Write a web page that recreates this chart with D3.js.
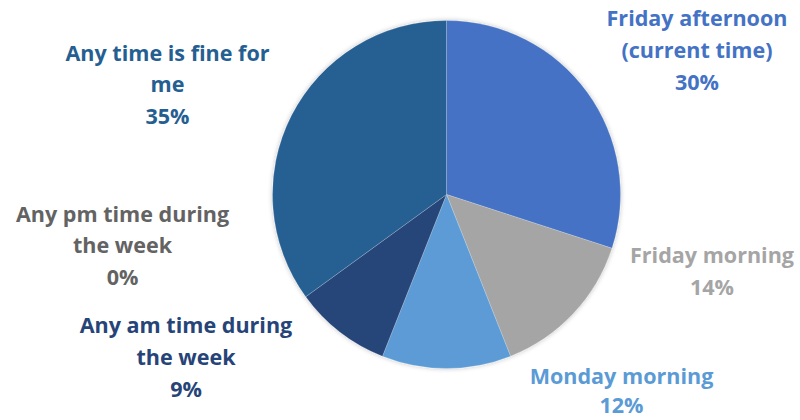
<!DOCTYPE html>
<html>
<head>
<meta charset="utf-8">
<script src="https://cdn.jsdelivr.net/npm/d3@7"></script>
<style>
  html, body { margin: 0; padding: 0; background: #fff; }
  svg { display: block; }
  text { font-family: "Open Sans", Lato, sans-serif; font-weight: 700; }
</style>
</head>
<body>
<svg id="chart" width="800" height="420"></svg>
<script>
const categories = ["Friday afternoon (current time)", "Friday morning", "Monday morning", "Any am time during the week", "Any pm time during the week", "Any time is fine for me"];
const values = [30, 14, 12, 9, 0, 35];
const colors = ["#4472C4", "#A5A5A5", "#5B9BD5", "#264478", "#636363", "#255E91"];
const labelLines = [
  ["Friday afternoon", "(current time)"],
  ["Friday morning"],
  ["Monday morning"],
  ["Any am time during", "the week"],
  ["Any pm time during", "the week"],
  ["Any time is fine for", "me"]
];
// label anchor positions (center x, first baseline y)
const labelPos = [
  [697, 26], [712, 263], [621.5, 384], [186, 333], [122.5, 221.5], [167.5, 60.5]
];

const svg = d3.select("#chart");
const cx = 446.5, cy = 194.5, r = 174;

const defs = svg.append("defs");
const f = defs.append("filter").attr("id", "sh").attr("x", "-10%").attr("y", "-10%").attr("width", "120%").attr("height", "120%");
f.append("feGaussianBlur").attr("in", "SourceAlpha").attr("stdDeviation", 2.5);
f.append("feOffset").attr("dx", 0).attr("dy", 0).attr("result", "b");
f.append("feComponentTransfer").append("feFuncA").attr("type", "linear").attr("slope", 0.25);
const m = f.append("feMerge");
m.append("feMergeNode");
m.append("feMergeNode").attr("in", "SourceGraphic");

const data = categories.map((c, i) => ({ cat: c, value: values[i], color: colors[i], lines: labelLines[i], pos: labelPos[i] }));
const pie = d3.pie().sort(null).value(d => d.value);
const arc = d3.arc().innerRadius(0).outerRadius(r);
const arcs = pie(data);

const g = svg.append("g").attr("transform", `translate(${cx},${cy})`).attr("filter", "url(#sh)");
g.selectAll("path").data(arcs.filter(a => a.data.value > 0)).enter().append("path")
  .attr("d", arc)
  .attr("fill", d => d.data.color)
  .attr("stroke", "rgba(255,255,255,0.35)")
  .attr("stroke-width", 0.6);

// fit font size so that the widest reference line matches the picture's measure
const probe = svg.append("text").attr("font-size", 20).text("Friday afternoon");
const w20 = probe.node().getComputedTextLength();
probe.remove();
const fs = 20 * 181 / w20, lh = 31.8;

const lg = svg.append("g");
arcs.forEach(a => {
  const d = a.data;
  const t = lg.append("text")
    .attr("text-anchor", "middle")
    .attr("fill", d.color)
    .attr("font-size", fs);
  const lines = d.lines.concat([d.value + "%"]);
  const step = d.pos[1] > 370 ? 28.5 : lh;
  lines.forEach((ln, i) => {
    t.append("tspan").attr("x", d.pos[0]).attr("y", d.pos[1] + i * step).text(ln);
  });
});
</script>
</body>
</html>
